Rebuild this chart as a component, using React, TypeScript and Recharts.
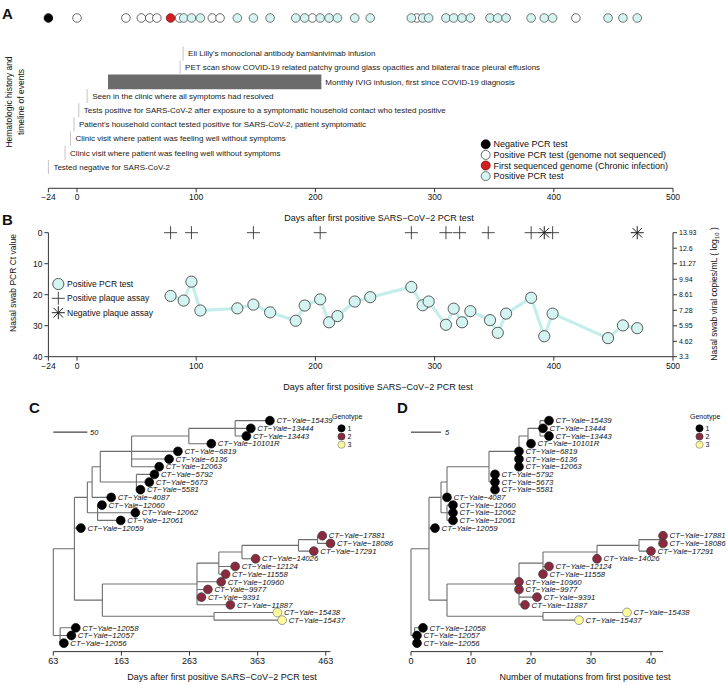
import React from "react";
import {
  ComposedChart,
  Line,
  ReferenceArea,
  ReferenceLine,
  Scatter,
  XAxis,
  YAxis
} from "recharts";

const FONT = "'Liberation Sans', Arial, Helvetica, sans-serif";
const CYAN = "#d3f4f1";
const CYAN_LINE = "#c4eeea";
const MAROON = "#8a2a3f";
const PALE_YELLOW = "#fbfb9c";
const BRANCH = "#6e6e6e";
const AXIS = "#333";

// shared x axis of panels A and B
const dayTicks = [-24, 0, 100, 200, 300, 400, 500];

// PCR tests (panel A dots, panel B Ct values)
const negativeTestDays = [-24];
const unsequencedDays = [0, 41, 54, 61, 67, 86, 113.5, 120, 197.5, 285, 418.5];
const firstGenomeDays = [78.5];
const pcrDays = [
  78.5, 89.5, 96, 103.5, 134.5, 148, 162, 183.5, 191, 204, 211.5, 218.5, 233, 246, 280.5,
  290, 295, 309.5, 316, 323, 330, 346.5, 353, 360, 381, 392, 399, 445.5, 458, 470
];
const pcrCt = [
  20.4, 21.9, 15.8, 25.1, 24.4, 23.2, 25.7, 28.4, 23.5, 21.5, 28.9, 26.9, 22.2, 20.8, 17.5,
  23.4, 22.2, 29.7, 24.5, 28.9, 25.3, 28.2, 32.3, 26.1, 21.0, 33.4, 26.1, 34.0, 29.9, 30.8
];

// plaque assays
const plaquePositiveDays = [78.5, 96, 148, 204, 280.5, 309.5, 321, 345, 381, 399];
const plaqueNegativeDays = [392, 470];

const ctTicks = [0, 10, 20, 30, 40];
const copiesTicks = [3.3, 4.62, 5.95, 7.28, 8.61, 9.94, 11.27, 12.6, 13.93];

// timeline of events
const eventLabels = [
  "Eli Lilly's monoclonal antibody bamlanivimab infusion",
  "PET scan show COVID-19 related patchy ground glass opacities and bilateral trace pleural effusions",
  "Seen in the clinic where all symptoms had resolved",
  "Tests positive for SARS-CoV-2 after exposure to a symptomatic household contact who tested positive",
  "Patient's household contact tested positive for SARS-CoV-2, patient symptomatic",
  "Clinic visit where patient was feeling well without symptoms",
  "Clinic visit where patient was feeling well without symptoms",
  "Tested negative for SARS-CoV-2"
];
const eventDays = [89, 86.5, 8.5, 1.5, -2.5, -5.5, -10, -24];
const eventRows = [2.5, 3.5, 5.5, 6.5, 7.5, 8.5, 9.5, 10.5];
const ivigLabel = "Monthly IVIG infusion, first since COVID-19 diagnosis";
const ivigStart = 26;
const ivigEnd = 205;
const ivigRow = 4.5;

// phylogenies (tips top to bottom)
const tipNames = [
  "15439", "13444", "13443", "10101R", "6819", "6136", "12063", "5792", "5673", "5581",
  "4087", "12060", "12062", "12061", "12059", "17881", "18086", "17291", "14026", "12124",
  "11558", "10960", "9977", "9391", "11887", "15438", "15437", "12058", "12057", "12056"
];
const tipGenotype = [
  1, 1, 1, 1, 1, 1, 1, 1, 1, 1, 1, 1, 1, 1, 1, 2, 2, 2, 2, 2, 2, 2, 2, 2, 2, 3, 3, 1, 1, 1
];
const tipParents = [
  "N9", "N9", "N9", "N8", "N6", "N6", "N6", "N7", "N7", "N7", "N3", "N4", "N4", "N4", "N1",
  "N16", "N16", "N15", "N14", "N13", "N13", "N11", "N11", "N11", "N11", "N12", "N12",
  "BOT", "BOT", "BOT"
];
const nodeNames = [
  "ROOT", "BOT", "N1", "N2", "N3", "N4", "N5", "N6", "N7", "N8", "N9",
  "N10", "N11", "N12", "N13", "N14", "N15", "N16"
];
const nodeParents = [
  "", "ROOT", "ROOT", "N1", "N2", "N2", "N3", "N5", "N5", "N6", "N8",
  "N1", "N10", "N10", "N11", "N13", "N14", "N15"
];

// panel C: days after first positive test
const cTipDays = [
  381, 353, 346.5, 295, 246, 233, 218.5, 211.5, 204, 191, 148, 134.5, 183.5, 162, 103.5,
  458, 470, 445.5, 360, 330, 316, 309.5, 290, 280.5, 323, 392, 399, 96, 89.5, 78.5
];
const cNodeDays = [63, 73, 94, 113, 120, 128, 132, 178, 185, 262, 330, 135, 274, 299, 306, 340, 423, 451];
const cTicks = [63, 163, 263, 363, 463];

// panel D: mutations from first positive test
const dTipMuts = [
  23, 22, 23, 20, 18, 18, 18, 14, 14, 14, 6, 7, 7, 7, 4, 42, 42, 40, 31, 23, 22, 18, 18, 21, 19,
  36, 28, 2, 1, 1
];
const dNodeMuts = [0, 0.6, 3, 5, 6, 6, 13, 18, 14, 19.5, 21.5, 6, 18, 22, 22, 31, 38, 42];
const dTicks = [0, 10, 20, 30, 40];

const minus = (v: number) => String(v).replace("-", "\u2212");

function treeSegments(nodeX: number[], tipX: number[]) {
  const x: Record<string, number> = {};
  const parent: Record<string, string> = {};
  const kids: Record<string, string[]> = {};
  nodeNames.forEach((n, i) => {
    x[n] = nodeX[i];
    parent[n] = nodeParents[i];
  });
  tipParents.forEach((p, i) => {
    x["tip" + i] = tipX[i];
    parent["tip" + i] = p;
  });
  Object.keys(parent).forEach((id) => {
    const p = parent[id];
    if (p) (kids[p] = kids[p] || []).push(id);
  });
  const row: Record<string, number> = {};
  const rowOf = (id: string): number => {
    if (row[id] !== undefined) return row[id];
    if (id.startsWith("tip")) return (row[id] = Number(id.slice(3)));
    const r = kids[id].map(rowOf);
    return (row[id] = (Math.min(...r) + Math.max(...r)) / 2);
  };
  const pts: { x: number; row: number | null }[] = [];
  Object.keys(parent).forEach((id) => {
    const p = parent[id];
    if (!p) return;
    const r = rowOf(id);
    pts.push({ x: x[p], row: r }, { x: x[id], row: r }, { x: x[id], row: null });
  });
  Object.keys(kids).forEach((id) => {
    const r = kids[id].map(rowOf);
    pts.push({ x: x[id], row: Math.min(...r) }, { x: x[id], row: Math.max(...r) }, { x: x[id], row: null });
  });
  return pts;
}

const genotypeFill = (g: number) => (g === 1 ? "#000" : g === 2 ? MAROON : PALE_YELLOW);
const genotypeStroke = (g: number) => (g === 1 ? "#000" : g === 2 ? "#3a3a3a" : "#777");

const TipMark = (props: any) => {
  const { cx, cy, payload } = props;
  return (
    <g>
      <circle cx={cx} cy={cy} r={4.4} fill={genotypeFill(payload.g)} stroke={genotypeStroke(payload.g)} strokeWidth={0.7} />
      <text x={cx + 6.5} y={cy} dy="0.35em" fontSize={7.8} fontStyle="italic" style={{ fill: "#111" }} fontFamily={FONT}>
        {payload.name}
      </text>
    </g>
  );
};

const testFill: Record<string, string> = { neg: "#000", unseq: "#fff", pos: CYAN, first: "#d11f1f" };
const testStroke: Record<string, string> = { neg: "#000", unseq: "#444", pos: "#555", first: "#7a1010" };

const TestDot = (props: any) => {
  const { cx, cy, payload } = props;
  return <circle cx={cx} cy={cy} r={4.3} fill={testFill[payload.kind]} stroke={testStroke[payload.kind]} strokeWidth={0.8} />;
};

const EventMark = (props: any) => {
  const { cx, cy, payload } = props;
  return (
    <g>
      <line x1={cx} x2={cx} y1={cy - 7} y2={cy + 7} stroke="#c4c4c4" strokeWidth={1} />
      <text x={cx + 5} y={cy} dy="0.35em" fontSize={8} style={{ fill: "#222" }} fontFamily={FONT}>
        {payload.label}
      </text>
    </g>
  );
};

const plusPath = (cx: number, cy: number, s: number) => `M${cx - s},${cy}H${cx + s}M${cx},${cy - s}V${cy + s}`;
const crossPath = (cx: number, cy: number, s: number) =>
  `M${cx - s},${cy - s}L${cx + s},${cy + s}M${cx - s},${cy + s}L${cx + s},${cy - s}`;

const PlusMark = (props: any) => <path d={plusPath(props.cx, props.cy, 6.5)} stroke="#333" strokeWidth={0.9} fill="none" />;
const StarMark = (props: any) => (
  <path d={plusPath(props.cx, props.cy, 6.5) + crossPath(props.cx, props.cy, 4.8)} stroke="#222" strokeWidth={1} fill="none" />
);

const tickStyle = { fontSize: 8.5, fill: "#111", fontFamily: FONT };

function PanelA() {
  const marks = [
    ...negativeTestDays.map((day) => ({ day, row: 0, kind: "neg" })),
    ...unsequencedDays.map((day) => ({ day, row: 0, kind: "unseq" })),
    ...pcrDays.filter((d) => !firstGenomeDays.includes(d)).map((day) => ({ day, row: 0, kind: "pos" })),
    ...firstGenomeDays.map((day) => ({ day, row: 0, kind: "first" }))
  ];
  const events = eventDays.map((day, i) => ({ day, row: eventRows[i], label: eventLabels[i] }));
  return (
    <ComposedChart width={727} height={230} margin={{ top: 3.8, right: 54, bottom: 21.7, left: 48.4 }}>
      <XAxis
        dataKey="day"
        type="number"
        domain={[-24, 500]}
        ticks={dayTicks}
        interval={0}
        height={20}
        tickFormatter={minus}
        tick={tickStyle}
        tickSize={4}
        stroke={AXIS}
      />
      <YAxis type="number" dataKey="row" domain={[-1, 12]} reversed hide />
      <ReferenceArea
        x1={ivigStart}
        x2={ivigEnd}
        y1={ivigRow - 0.52}
        y2={ivigRow + 0.52}
        fill="#6b6b6b"
        fillOpacity={1}
        stroke="none"
        label={{ value: ivigLabel, position: "right", offset: 4, fontSize: 8, fill: "#222", fontFamily: FONT }}
      />
      <Scatter data={events} dataKey="row" shape={EventMark} isAnimationActive={false} />
      <Scatter data={marks} dataKey="row" shape={TestDot} isAnimationActive={false} />
    </ComposedChart>
  );
}

function PanelB() {
  const pcrTable = pcrDays.map((day, i) => ({ day, ct: pcrCt[i] }));
  const plaquePos = plaquePositiveDays.map((day) => ({ day, ct: 0 }));
  const plaqueNeg = plaqueNegativeDays.map((day) => ({ day, ct: 0 }));
  return (
    <ComposedChart width={727} height={180} margin={{ top: 12.7, right: 14, bottom: 23.3, left: 18.4 }}>
      <XAxis
        dataKey="day"
        type="number"
        domain={[-24, 500]}
        ticks={dayTicks}
        interval={0}
        height={20}
        tickFormatter={minus}
        tick={tickStyle}
        tickSize={4}
        stroke={AXIS}
      />
      <YAxis
        yAxisId="ct"
        type="number"
        domain={[0, 40]}
        reversed
        ticks={ctTicks}
        interval={0}
        width={30}
        tick={tickStyle}
        tickSize={4}
        stroke={AXIS}
      />
      <YAxis
        yAxisId="copies"
        orientation="right"
        type="number"
        domain={[3.3, 13.93]}
        ticks={copiesTicks}
        interval={0}
        width={40}
        tick={{ ...tickStyle, fontSize: 7 }}
        tickSize={4}
        stroke={AXIS}
        allowDataOverflow
      />
      <Line
        yAxisId="ct"
        data={pcrTable}
        dataKey="ct"
        type="linear"
        stroke={CYAN_LINE}
        strokeWidth={3.2}
        dot={{ r: 5.6, fill: CYAN, stroke: "#333", strokeWidth: 0.8 }}
        isAnimationActive={false}
      />
      <Scatter yAxisId="ct" data={plaquePos} dataKey="ct" shape={PlusMark} isAnimationActive={false} />
      <Scatter yAxisId="ct" data={plaqueNeg} dataKey="ct" shape={StarMark} isAnimationActive={false} />
    </ComposedChart>
  );
}

function TreePanel(props: {
  width: number;
  margin: { top: number; right: number; bottom: number; left: number };
  domain: [number, number];
  ticks: number[];
  nodeX: number[];
  tipX: number[];
  scaleLen: number;
}) {
  const { width, margin, domain, ticks, nodeX, tipX, scaleLen } = props;
  const segs = treeSegments(nodeX, tipX);
  const tips = tipNames.map((n, i) => ({ x: tipX[i], row: i, g: tipGenotype[i], name: "CT\u2212Yale\u2212" + n }));
  return (
    <ComposedChart width={width} height={285} margin={margin}>
      <XAxis
        dataKey="x"
        type="number"
        domain={domain}
        ticks={ticks}
        interval={0}
        height={20}
        tick={{ ...tickStyle, fontSize: 9 }}
        tickSize={4}
        stroke={AXIS}
      />
      <YAxis type="number" dataKey="row" domain={[-1, 30.1]} reversed hide />
      <ReferenceLine
        segment={[
          { x: domain[0], y: 1.5 },
          { x: domain[0] + scaleLen, y: 1.5 }
        ]}
        stroke="#444"
        strokeWidth={1.2}
      />
      <Line
        data={segs}
        dataKey="row"
        type="linear"
        stroke={BRANCH}
        strokeWidth={1.1}
        dot={false}
        connectNulls={false}
        isAnimationActive={false}
      />
      <Scatter data={tips} dataKey="row" shape={TipMark} isAnimationActive={false} />
    </ComposedChart>
  );
}

const legendA = [
  { kind: "neg", label: "Negative PCR test" },
  { kind: "unseq", label: "Positive PCR test (genome not sequenced)" },
  { kind: "first", label: "First sequenced genome (Chronic infection)" },
  { kind: "pos", label: "Positive PCR test" }
];

function GenotypeLegend({ x }: { x: number }) {
  return (
    <g fontFamily={FONT} fontSize={7} fill="#111">
      <text x={x} y={419}>Genotype</text>
      {[1, 2, 3].map((g, i) => (
        <g key={g}>
          <circle cx={x + 9.5} cy={428.3 + i * 8.2} r={3.6} fill={genotypeFill(g)} stroke={genotypeStroke(g)} strokeWidth={0.6} />
          <text x={x + 15.5} y={428.3 + i * 8.2} dy="0.35em">{g}</text>
        </g>
      ))}
    </g>
  );
}

function Overlay() {
  const t = { fontFamily: FONT, fill: "#111" };
  return (
    <svg width={727} height={685} style={{ position: "absolute", left: 0, top: 0, pointerEvents: "none" }}>
      <g {...t} fontWeight="bold" fontSize={15}>
        <text x={2} y={19}>A</text>
        <text x={2} y={225}>B</text>
        <text x={29} y={413}>C</text>
        <text x={397} y={413}>D</text>
      </g>
      <g {...t} fontSize={8.5}>
        <text transform="translate(12,102) rotate(-90)" textAnchor="middle">Hematologic history and</text>
        <text transform="translate(24.3,102) rotate(-90)" textAnchor="middle">timeline of events</text>
        <text transform="translate(16,283) rotate(-90)" textAnchor="middle">Nasal swab PCR Ct value</text>
        <text transform="translate(717,294) rotate(-90)" textAnchor="middle">
          <tspan>Nasal swab viral copies/mL ( log</tspan>
          <tspan fontSize={6} dy={2}>10</tspan>
          <tspan dy={-2}> )</tspan>
        </text>
      </g>
      <g {...t} fontSize={9} textAnchor="middle">
        <text x={379} y={221}>Days after first positive SARS{"\u2212"}CoV{"\u2212"}2 PCR test</text>
        <text x={378} y={390}>Days after first positive SARS{"\u2212"}CoV{"\u2212"}2 PCR test</text>
        <text x={222} y={680}>Days after first positive SARS{"\u2212"}CoV{"\u2212"}2 PCR test</text>
        <text x={585} y={680}>Number of mutations from first positive test</text>
      </g>
      <g {...t} fontSize={9}>
        {legendA.map((e, i) => (
          <g key={e.label}>
            <circle cx={485.7} cy={144.3 + i * 10.6} r={4.5} fill={testFill[e.kind]} stroke={testStroke[e.kind]} strokeWidth={0.8} />
            <text x={493.5} y={144.3 + i * 10.6} dy="0.35em">{e.label}</text>
          </g>
        ))}
      </g>
      <g {...t} fontSize={8.5}>
        <circle cx={58.3} cy={284} r={5.6} fill={CYAN} stroke="#333" strokeWidth={0.8} />
        <text x={67} y={284} dy="0.35em">Positive PCR test</text>
        <path d={plusPath(58.3, 298.3, 6.5)} stroke="#333" strokeWidth={0.9} />
        <text x={67} y={298.3} dy="0.35em">Positive plaque assay</text>
        <path d={plusPath(58.3, 312.7, 6.5) + crossPath(58.3, 312.7, 4.8)} stroke="#222" strokeWidth={1} />
        <text x={67} y={312.7} dy="0.35em">Negative plaque assay</text>
      </g>
      <g {...t} fontSize={7.5} fontStyle="italic">
        <text x={90} y={432.3} dy="0.35em">50</text>
        <text x={445} y={432.3} dy="0.35em">5</text>
      </g>
      <GenotypeLegend x={332} />
      <GenotypeLegend x={690} />
    </svg>
  );
}

export default function App() {
  return (
    <div style={{ position: "relative", width: 727, height: 685, background: "#fff", fontFamily: FONT }}>
      <style>{"body{margin:0}"}</style>
      <div style={{ position: "absolute", left: 0, top: 0 }}>
        <PanelA />
      </div>
      <div style={{ position: "absolute", left: 0, top: 220 }}>
        <PanelB />
      </div>
      <div style={{ position: "absolute", left: 0, top: 400 }}>
        <TreePanel
          width={420}
          margin={{ top: 13, right: 89.5, bottom: 13.4, left: 53.3 }}
          domain={[63, 470]}
          ticks={cTicks}
          nodeX={cNodeDays}
          tipX={cTipDays}
          scaleLen={50}
        />
      </div>
      <div style={{ position: "absolute", left: 360, top: 400 }}>
        <TreePanel
          width={367}
          margin={{ top: 13, right: 64, bottom: 13.4, left: 51 }}
          domain={[0, 42]}
          ticks={dTicks}
          nodeX={dNodeMuts}
          tipX={dTipMuts}
          scaleLen={5}
        />
      </div>
      <Overlay />
    </div>
  );
}
